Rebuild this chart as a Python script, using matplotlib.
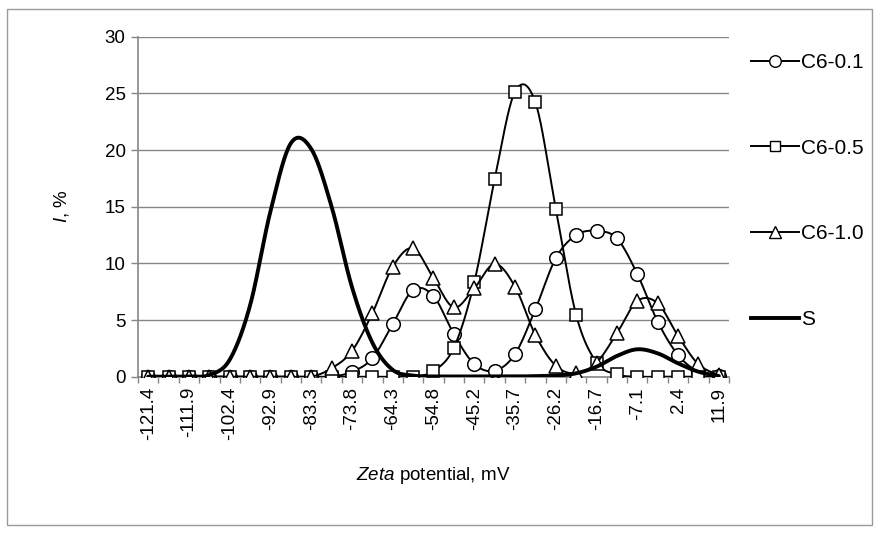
import numpy as np
import matplotlib
matplotlib.use("Agg")
import matplotlib.pyplot as plt
from matplotlib.lines import Line2D
from matplotlib.patches import Rectangle

plt.rcParams['font.family'] = ['Liberation Sans', 'DejaVu Sans']
plt.rcParams['mathtext.fontset'] = 'custom'
plt.rcParams['mathtext.rm'] = 'Liberation Sans'
plt.rcParams['mathtext.it'] = 'Liberation Sans:italic'

# ---------------- data ----------------
zeta = [-121.4, -116.6, -111.9, -107.1, -102.4, -97.6, -92.9, -88.1, -83.3, -78.6,
        -73.8, -69.0, -64.3, -59.5, -54.8, -50.0, -45.2, -40.5, -35.7, -31.0,
        -26.2, -21.4, -16.7, -11.9, -7.1, -2.4, 2.4, 7.1, 11.9]
c6_01 = [0, 0, 0, 0, 0, 0, 0, 0, 0, 0,
         0.44, 1.62, 4.65, 7.65, 7.12, 3.74, 1.12, 0.53, 2.0, 5.95,
         10.45, 12.5, 12.86, 12.2, 9.06, 4.86, 1.91, 0.44, 0.06]
c6_05 = [0, 0, 0, 0, 0, 0, 0, 0, 0, 0,
         0, 0, 0, 0, 0.5, 2.56, 8.33, 17.42, 25.15, 24.2,
         14.8, 5.45, 1.25, 0.2, 0, 0, 0, 0, 0]
c6_10 = [0, 0, 0, 0, 0, 0, 0, 0, 0, 0.74,
         2.27, 5.6, 9.7, 11.33, 8.68, 6.12, 7.8, 9.95, 7.94, 3.68,
         0.97, 0.3, 1.24, 3.83, 6.68, 6.48, 3.59, 1.09, 0.15]
s_vals = [0, 0, 0.02, 0.15, 1.5, 6.3, 14.6, 20.6, 20.1, 15.0,
          7.9, 3.0, 0.6, 0.1, 0.02, 0.02, 0.02, 0.02, 0.02, 0.05,
          0.1, 0.3, 0.88, 1.83, 2.42, 2.06, 1.18, 0.44, 0.06]
series_names = ['C6-0.1', 'C6-0.5', 'C6-1.0', 'S']
tick_labels = [f"{v:g}" if i % 2 == 0 else "" for i, v in enumerate(zeta)]


def smooth(y, n=30):
    """Catmull-Rom smoothing (like Excel's smoothed lines) over category index."""
    y = np.asarray(y, float)
    x = np.arange(len(y), dtype=float)
    px = np.concatenate([[x[0]], x, [x[-1]]])
    py = np.concatenate([[y[0]], y, [y[-1]]])
    xs, ys = [], []
    t = np.linspace(0, 1, n, endpoint=False)
    for i in range(1, len(px) - 2):
        p0, p1, p2, p3 = (np.array([px[j], py[j]]) for j in (i - 1, i, i + 1, i + 2))
        c1 = p1 + (p2 - p0) / 6
        c2 = p2 - (p3 - p1) / 6
        pts = (((1 - t) ** 3)[:, None] * p1 + (3 * (1 - t) ** 2 * t)[:, None] * c1
               + (3 * (1 - t) * t ** 2)[:, None] * c2 + (t ** 3)[:, None] * p2)
        xs.append(pts[:, 0]); ys.append(pts[:, 1])
    xs.append([x[-1]]); ys.append([y[-1]])
    return np.concatenate(xs), np.concatenate(ys)


W, H = 879, 533
fig = plt.figure(figsize=(W / 100, H / 100), dpi=100)
L, R, T, B = 138, 729, 36.7, 376.7
ax = fig.add_axes([L / W, 1 - B / H, (R - L) / W, (B - T) / H])

grey = '#868686'
idx = np.arange(len(zeta))

styles = [
    dict(marker='o', ms=9.8),
    dict(marker='s', ms=8.8),
    dict(marker='^', ms=9.8),
]
handles = []
for k, (vals, st) in enumerate(zip([c6_01, c6_05, c6_10], styles)):
    sx, sy = smooth(vals)
    ax.plot(sx, sy, color='black', lw=1.4, zorder=3 + k, solid_capstyle='round')
    ax.plot(idx, vals, linestyle='none', marker=st['marker'], ms=st['ms'],
            mfc='white', mec='black', mew=1.1, zorder=3 + k)
    handles.append(Line2D([], [], color='black', lw=1.4, marker=st['marker'],
                          ms=st['ms'] * 0.85, mfc='white', mec='black', mew=1.0))
sx, sy = smooth(s_vals)
ax.plot(sx, sy, color='black', lw=2.8, zorder=7, solid_capstyle='round')
handles.append(Line2D([], [], color='black', lw=2.8))

ax.set_xlim(-0.5, len(zeta) - 0.5)
ax.set_ylim(0, 30)
ax.set_yticks(np.arange(0, 31, 5))
ax.set_yticklabels([str(v) for v in range(0, 31, 5)], fontsize=13.5)
ax.yaxis.grid(True, color=grey, lw=1.0)
ax.set_axisbelow(True)

ax.set_xticks(idx)
ax.set_xticklabels(tick_labels, rotation=90, fontsize=13.5)
ax.tick_params(axis='x', which='major', length=0, pad=7.5)
ax.set_xticks(np.arange(-0.5, len(zeta), 1), minor=True)
ax.tick_params(axis='x', which='minor', length=4, color=grey, width=1.0)
ax.tick_params(axis='y', length=5, color=grey, width=1.0, pad=4)

for sp in ['top', 'right']:
    ax.spines[sp].set_visible(False)
for sp in ['left', 'bottom']:
    ax.spines[sp].set_color(grey)
    ax.spines[sp].set_linewidth(1.2)

fig.text(62 / W, 1 - 206 / H, r'$\mathit{I}$, %', rotation=90, ha='center', va='center',
         fontsize=13.5)
fig.text(433 / W, 1 - 476 / H, r'$\mathit{Zeta}$ potential, mV', ha='center', va='center',
         fontsize=13.5)

fig.legend(handles, series_names, loc='upper left', bbox_to_anchor=(751 / W, 1 - 53 / H),
           frameon=False, fontsize=15, handlelength=2.3, handletextpad=0.12,
           labelspacing=3.2, borderpad=0, borderaxespad=0)

fig.patches.append(Rectangle((7 / W, 1 - 525 / H), (872 - 7) / W, (525 - 9) / H,
                             transform=fig.transFigure, fill=False, ec='#9a9a9a', lw=1.0))

fig.savefig('out.png', dpi=100, facecolor='white')
